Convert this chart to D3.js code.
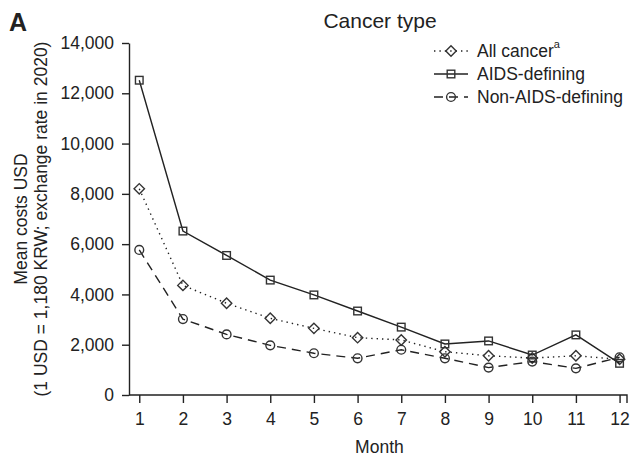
<html>
<head>
<meta charset="utf-8">
<script src="https://d3js.org/d3.v7.min.js"></script>
<style>
  body { margin: 0; background: #fff; }
  svg text { font-family: "Liberation Sans", Arial, Helvetica, sans-serif; fill: #222; }
  .axis path, .axis line { stroke: #222; stroke-width: 1.4; }
  .axis text { font-size: 17.5px; }
</style>
</head>
<body>
<svg id="chart" width="630" height="457"></svg>
<script>
// data (mean costs in USD)
const months = [1, 2, 3, 4, 5, 6, 7, 8, 9, 10, 11, 12];
const allCancer = [8200, 4360, 3650, 3050, 2650, 2280, 2190, 1720, 1560, 1470, 1560, 1420];
const aidsDefining = [12520, 6520, 5550, 4570, 3980, 3340, 2700, 2030, 2150, 1590, 2390, 1260];
const nonAidsDefining = [5770, 3020, 2410, 1975, 1660, 1460, 1800, 1460, 1090, 1330, 1060, 1500];
const yTicks = [0, 2000, 4000, 6000, 8000, 10000, 12000, 14000];

const series = [
  {name: 'All cancer', sup: 'a', values: allCancer, dash: '1.4,4', marker: 'diamond'},
  {name: 'AIDS-defining', sup: '', values: aidsDefining, dash: null, marker: 'square'},
  {name: 'Non-AIDS-defining', sup: '', values: nonAidsDefining, dash: '9,6', marker: 'circle'}
];

const svg = d3.select('svg#chart');
const ink = '#222';

// scales
const x = d3.scaleLinear().domain([0.765, 12.17]).range([129, 627]);
const y = d3.scaleLinear().domain([0, 14000]).range([395, 43]);

// axes
const xAxis = d3.axisBottom(x).tickValues(months).tickSize(8).tickPadding(10).tickSizeOuter(0);
const gx = svg.append('g').attr('class', 'axis').attr('transform', `translate(0,${y(0)})`).call(xAxis);
gx.select('.domain').attr('d', `M${x.range()[0]},0H${x.range()[1]}V8`).attr('fill', 'none');

const yAxis = d3.axisLeft(y).tickValues(yTicks).tickFormat(d3.format(',')).tickSize(7).tickPadding(8).tickSizeOuter(0);
svg.append('g').attr('class', 'axis').attr('transform', `translate(${x.range()[0]},0)`).call(yAxis);

// lines
const line = d3.line().x((d, i) => x(months[i])).y(d => y(d));

const drawMarker = function(g, type, cx, cy) {
  if (type === 'square') {
    g.append('rect').attr('x', cx - 3.8).attr('y', cy - 3.8).attr('width', 7.6).attr('height', 7.6);
  } else if (type === 'diamond') {
    g.append('path').attr('d', `M${cx},${cy - 5.2}L${cx + 5.2},${cy}L${cx},${cy + 5.2}L${cx - 5.2},${cy}Z`);
  } else {
    g.append('circle').attr('cx', cx).attr('cy', cy).attr('r', 4.4);
  }
};

series.forEach(s => {
  svg.append('path')
    .attr('d', line(s.values))
    .attr('fill', 'none')
    .attr('stroke', ink)
    .attr('stroke-width', 1.4)
    .attr('stroke-dasharray', s.dash);

  const mg = svg.append('g').attr('fill', 'none').attr('stroke', '#333').attr('stroke-width', 1.4);
  s.values.forEach((v, i) => drawMarker(mg, s.marker, x(months[i]), y(v)));
});

// legend
svg.append('text').attr('x', 380).attr('y', 28).attr('text-anchor', 'middle')
  .style('font-size', '21px').text('Cancer type');

series.forEach((s, i) => {
  const ly = 51 + i * 23;
  svg.append('line').attr('x1', 434).attr('x2', 468).attr('y1', ly).attr('y2', ly)
    .attr('stroke', ink).attr('stroke-width', 1.4).attr('stroke-dasharray', s.dash);
  const mg = svg.append('g').attr('fill', 'none').attr('stroke', '#333').attr('stroke-width', 1.4);
  drawMarker(mg, s.marker, 451, ly);
  const t = svg.append('text').attr('x', 477).attr('y', ly + 6).style('font-size', '17.5px').text(s.name);
  if (s.sup) {
    t.append('tspan').attr('dy', -9).style('font-size', '11px').text(s.sup);
  }
});

// axis titles
svg.append('text').attr('x', x(6.5)).attr('y', 453).attr('text-anchor', 'middle')
  .style('font-size', '17.5px').text('Month');

const yTitle = svg.append('text').attr('transform', `translate(27,${(y(0) + y(14000)) / 2}) rotate(-90)`)
  .attr('text-anchor', 'middle').style('font-size', '17.5px');
yTitle.append('tspan').attr('x', 0).attr('y', 0).text('Mean costs USD');
yTitle.append('tspan').attr('x', 0).attr('y', 20).text('(1 USD = 1,180 KRW; exchange rate in 2020)');

// panel letter
svg.append('text').attr('x', 9).attr('y', 31).style('font-size', '25px').style('font-weight', 'bold').text('A');
</script>
</body>
</html>
